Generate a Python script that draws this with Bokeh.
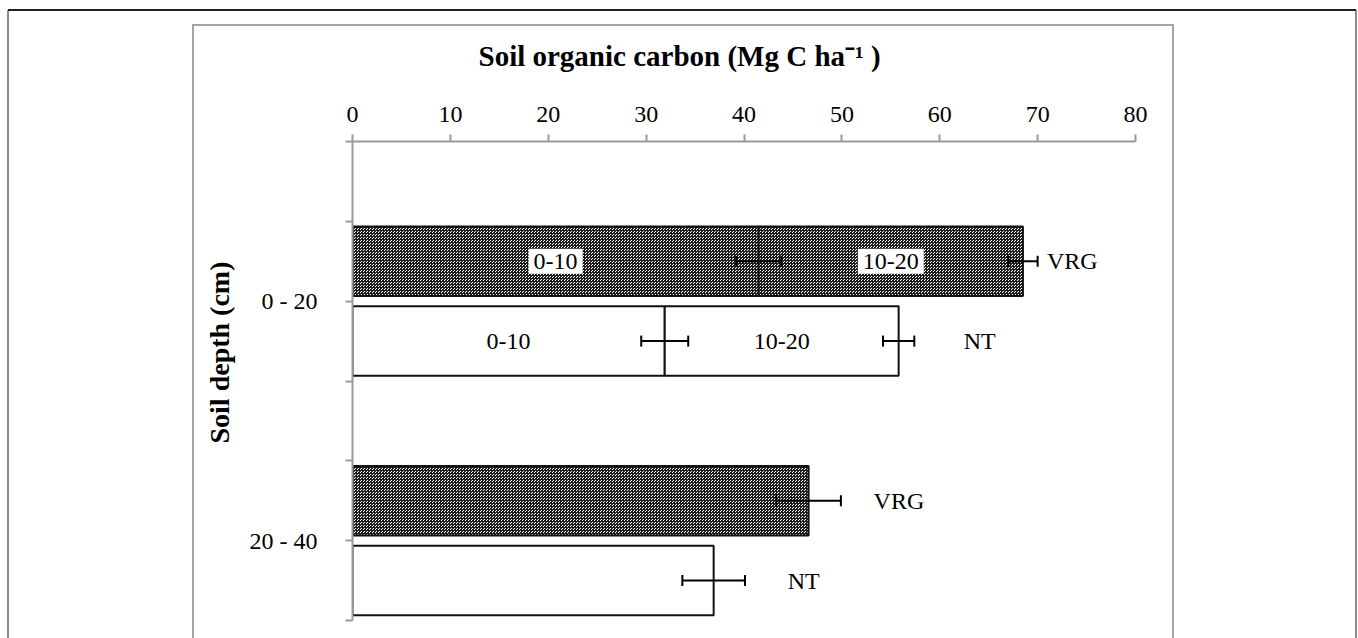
import numpy as np
from bokeh.plotting import figure
from bokeh.models import (Range1d, FixedTicker, ColumnDataSource, Whisker, TeeHead, Title)
from bokeh.core.properties import value
from bokeh.embed import file_html
from bokeh.resources import INLINE

# ---------------- data ----------------
depths = ["0 - 20", "20 - 40"]
treatments = ["VRG", "NT"]
layers = ["0-10", "10-20"]
soc_vrg_0_20 = [41.5, 27.0]      # per layer (0-10, 10-20), stacked
soc_nt_0_20 = [31.9, 23.9]
soc_20_40 = [46.6, 36.9]         # VRG, NT
err_vrg_0_20 = [2.3, 1.5]        # at cumulative ends
err_nt_0_20 = [2.4, 1.6]
err_20_40 = [3.3, 3.2]
x_ticks = [0, 10, 20, 30, 40, 50, 60, 70, 80]

# ---------------- styling ----------------
FONT = "Liberation Serif"
AXIS_GREY = "#9a9a9a"
BAR_LINE = "#111111"
BAR_H = 0.87
label_offset_px = [24, 65, 65, 74]   # gap from bar end to treatment label

# ---------------- layout of categories ----------------
group_centers = [2, 5]
treat_shift = {"VRG": -0.5, "NT": 0.5}

seg = dict(y=[], left=[], right=[], treat=[])
err = dict(y=[], lo=[], hi=[])
layer_txt = dict(x=[], y=[], text=[], treat=[])
treat_txt = dict(x=[], y=[], text=[], xo=[])

stacks = {"VRG": (soc_vrg_0_20, err_vrg_0_20), "NT": (soc_nt_0_20, err_nt_0_20)}
k = 0
for t in treatments:
    vals, errs = stacks[t]
    y = group_centers[0] + treat_shift[t]
    ends = np.cumsum(vals)
    starts = ends - np.array(vals)
    for lay, s, e, er in zip(layers, starts, ends, errs):
        seg["y"].append(y); seg["left"].append(float(s)); seg["right"].append(float(e)); seg["treat"].append(t)
        err["y"].append(y); err["lo"].append(float(e - er)); err["hi"].append(float(e + er))
        layer_txt["x"].append(float((s + e) / 2)); layer_txt["y"].append(y)
        layer_txt["text"].append(lay); layer_txt["treat"].append(t)
    treat_txt["x"].append(float(ends[-1])); treat_txt["y"].append(y)
    treat_txt["text"].append(t); treat_txt["xo"].append(label_offset_px[k]); k += 1
for t, v, er in zip(treatments, soc_20_40, err_20_40):
    y = group_centers[1] + treat_shift[t]
    seg["y"].append(y); seg["left"].append(0.0); seg["right"].append(v); seg["treat"].append(t)
    err["y"].append(y); err["lo"].append(v - er); err["hi"].append(v + er)
    treat_txt["x"].append(v); treat_txt["y"].append(y)
    treat_txt["text"].append(t); treat_txt["xo"].append(label_offset_px[k]); k += 1

def subset(d, key, val):
    idx = [i for i, x in enumerate(d[key]) if x == val]
    return {c: [d[c][i] for i in idx] for c in d}

W, H = 1358, 638
FL, FT, FW, FH = 352, 141, 783, 479
p = figure(width=W, height=H, x_range=Range1d(0, 80), y_range=Range1d(6, 0),
           x_axis_location="above", output_backend="svg", toolbar_location=None,
           min_border_left=FL, min_border_right=W - FL - FW,
           min_border_top=FT, min_border_bottom=H - FT - FH)
p.outline_line_color = None
p.background_fill_color = None
p.border_fill_color = None
p.xgrid.visible = False
p.ygrid.visible = False

# figure and chart-area frames drawn as CSS background of the plot element
def line(color, x, y, w, h):
    return f"linear-gradient({color},{color}) {x}px {y}px / {w}px {h}px no-repeat"

frames = [
    line("#1f1f1f", 8, 9, 1348, 2),      # outer top
    line("#8c8c8c", 7, 10, 2, H - 10),   # outer left
    line("#8c8c8c", 1355, 10, 2, H - 10),  # outer right
    line("#a3a3a3", 192, 24, 982, 2),    # chart area top
    line("#a3a3a3", 192, 24, 2, H - 24),  # chart area left
    line("#a3a3a3", 1172, 24, 2, H - 24),  # chart area right
]
p.styles = {"background": ", ".join(frames) + ", #ffffff"}

# bars
vrg_src = ColumnDataSource(subset(seg, "treat", "VRG"))
nt_src = ColumnDataSource(subset(seg, "treat", "NT"))
p.hbar(y="y", left="left", right="right", height=BAR_H, source=vrg_src,
       fill_color="white", hatch_pattern="criss_cross", hatch_color="#1c1c1c",
       hatch_scale=3, hatch_weight=1, line_color=BAR_LINE, line_width=2)
p.hbar(y="y", left="left", right="right", height=BAR_H, source=nt_src,
       fill_color="white", line_color=BAR_LINE, line_width=2)

# error bars
esrc = ColumnDataSource(err)
p.add_layout(Whisker(source=esrc, base="y", lower="lo", upper="hi", dimension="width",
                     level="overlay", line_color="black", line_width=2,
                     upper_head=TeeHead(size=11, line_color="black", line_width=2),
                     lower_head=TeeHead(size=11, line_color="black", line_width=2)))

# layer labels
p.text(x="x", y="y", text="text", source=ColumnDataSource(subset(layer_txt, "treat", "VRG")),
       text_font=value(FONT), text_font_size="24px", text_align="center",
       text_baseline="middle", text_color="black",
       background_fill_color="white", padding=5)
p.text(x="x", y="y", text="text", source=ColumnDataSource(subset(layer_txt, "treat", "NT")),
       text_font=value(FONT), text_font_size="24px", text_align="center",
       text_baseline="middle", text_color="black")

# treatment labels
p.text(x="x", y="y", text="text", x_offset="xo", source=ColumnDataSource(treat_txt),
       text_font=value(FONT), text_font_size="24px", text_align="left",
       text_baseline="middle", text_color="black")

# axes
for ax in (p.xaxis[0], p.yaxis[0]):
    ax.axis_line_color = AXIS_GREY
    ax.axis_line_width = 2
    ax.major_tick_line_color = AXIS_GREY
    ax.major_tick_line_width = 2
    ax.major_tick_in = 0
    ax.major_tick_out = 7
    ax.minor_tick_line_color = None
    ax.major_label_text_font = FONT
    ax.major_label_text_font_size = "24px"
    ax.major_label_text_color = "black"

p.xaxis.ticker = FixedTicker(ticks=x_ticks)
p.xaxis.major_label_standoff = 13

y_ticks = [0, 1, 2, 3, 4, 5, 6]
p.yaxis.ticker = FixedTicker(ticks=y_ticks)
overrides = {t: "" for t in y_ticks}
for c, lab in zip(group_centers, depths):
    overrides[c] = lab
p.yaxis.major_label_overrides = overrides
p.yaxis.major_label_standoff = 28

# titles
p.title.text = "Soil organic carbon (Mg C ha\u207b\u00b9 )"
p.title.align = "left"
p.title.offset = 126
p.title.text_font = FONT
p.title.text_font_size = "29px"
p.title.text_font_style = "bold"
p.title.text_color = "black"
p.title.standoff = 64
p.add_layout(Title(text="Soil depth (cm)", align="left", offset=177, text_font=FONT,
                   text_font_size="28px", text_font_style="bold", text_color="black",
                   standoff=24), "left")

open("out.html", "w").write(file_html(p, INLINE))
